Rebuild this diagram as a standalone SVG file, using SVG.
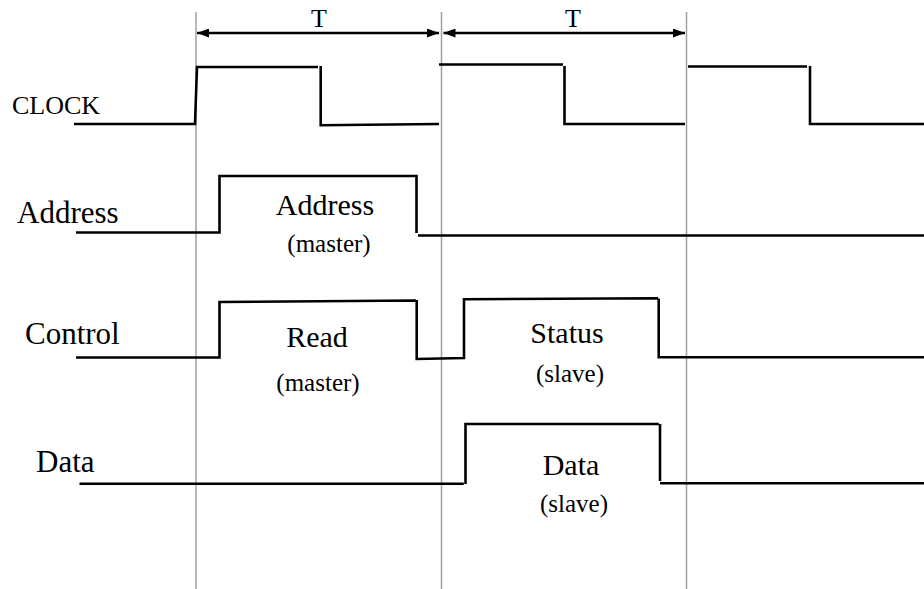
<svg xmlns="http://www.w3.org/2000/svg" width="924" height="589" viewBox="0 0 924 589">
  <defs>
    <marker id="head" viewBox="0 0 12 9" refX="12" refY="4.5" markerWidth="12" markerHeight="9" markerUnits="userSpaceOnUse" orient="auto-start-reverse">
      <path d="M0,0 L12,4.5 L0,9 z" fill="#000"/>
    </marker>
    <style>
      .grid { stroke: #a0a0a0; stroke-width: 1.5; fill: none; }
      .wave { stroke: #000; stroke-width: 2.6; fill: none; stroke-linejoin: miter; stroke-linecap: butt; }
      .span { stroke: #000; stroke-width: 2.4; fill: none; marker-start: url(#head); marker-end: url(#head); }
      text { font-family: "Liberation Serif", "Times New Roman", serif; fill: #000; }
      .lbl { font-size: 31px; }
      .clk { font-size: 26px; }
      .big { font-size: 30px; text-anchor: middle; }
      .sub { font-size: 25px; text-anchor: middle; }
      .per { font-size: 26px; text-anchor: middle; }
    </style>
  </defs>

  <!-- cycle boundaries and period markers -->
  <g id="timebase">
    <line class="grid" x1="196" y1="12" x2="196" y2="589"/>
    <line class="grid" x1="441.5" y1="12" x2="441.5" y2="589"/>
    <line class="grid" x1="686.5" y1="12" x2="686.5" y2="589"/>
  </g>

  <g id="connectors">
    <line class="span" x1="197" y1="33" x2="439" y2="33"/>
    <line class="span" x1="443.5" y1="33" x2="685" y2="33"/>
  </g>

  <g id="period-labels">
    <text class="per" x="319" y="27">T</text>
    <text class="per" x="573" y="27">T</text>
  </g>

  <!-- CLOCK -->
  <g id="clock">
    <text class="clk" x="12" y="114">CLOCK</text>
    <path class="wave" d="M74,124 H195 L197,67 H318 M320.7,66 V125.3 L439,124 M439,64.5 H563 M564.5,66 V124 H685 M688,66.5 H807 M810,66 V124 H924"/>
  </g>

  <!-- Address bus -->
  <g id="address">
    <text class="lbl" x="17" y="223">Address</text>
    <path class="wave" d="M76,232.5 H219.5 V176 H416.5 V233 M418,235.5 H924"/>
    <text class="big" x="325" y="215">Address</text>
    <text class="sub" x="329" y="252">(master)</text>
  </g>

  <!-- Control lines -->
  <g id="control">
    <text class="lbl" x="25" y="344">Control</text>
    <path class="wave" d="M76,357.5 H219.5 V302 L416,300.5 M416.7,300 V359 L464,358 V299.3 L658,298.3 M658.7,298.5 V357.3 H924"/>
    <text class="big" x="317" y="347">Read</text>
    <text class="sub" x="318" y="391">(master)</text>
    <text class="big" x="567" y="343">Status</text>
    <text class="sub" x="570" y="382">(slave)</text>
  </g>

  <!-- Data bus -->
  <g id="data">
    <text class="lbl" x="36" y="472">Data</text>
    <path class="wave" d="M79.5,483.7 H463.8 M465.5,484 V424 H658.8 M660,424 V481 M660,483.3 H924"/>
    <text class="big" x="571" y="475">Data</text>
    <text class="sub" x="574" y="512">(slave)</text>
  </g>
</svg>
